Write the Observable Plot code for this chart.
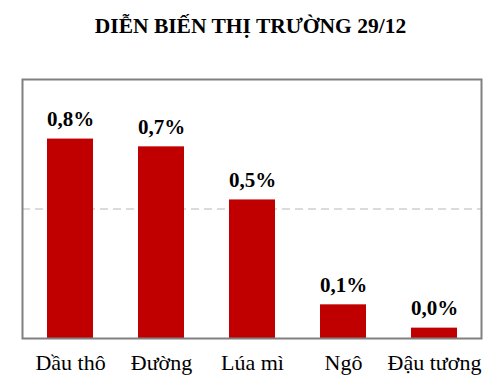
<!DOCTYPE html>
<html><head><meta charset="utf-8">
<script src="https://cdn.jsdelivr.net/npm/d3@7"></script>
<script src="https://cdn.jsdelivr.net/npm/@observablehq/plot@0.6"></script>
<style>
body{margin:0;background:#fff;width:501px;height:392px;overflow:hidden;}
#title{height:50px;box-sizing:border-box;padding-top:16px;text-align:center;font-family:"Liberation Serif","Times New Roman",serif;font-weight:bold;font-size:21.5px;line-height:20px;color:#000;}
#chart svg text{font-family:"Liberation Serif","Times New Roman",serif;}
</style></head>
<body>
<div id="title">DIỄN BIẾN THỊ TRƯỜNG 29/12</div>
<div id="chart"></div>
<script>
const categories = ["Dầu thô", "Đường", "Lúa mì", "Ngô", "Đậu tương"];
const values = [0.77, 0.74, 0.535, 0.13, 0.04];
const gridValues = [0.5];

const data = categories.map((c, i) => ({cat: c, v: values[i]}));
const fmt = v => d3.format(".1f")(v).replace(".", ",") + "%";
const serif = "'Liberation Serif','Times New Roman',serif";

const chart = Plot.plot({
  width: 501,
  height: 342,
  marginTop: 29,
  marginBottom: 54,
  marginLeft: 22,
  marginRight: 20,
  style: {fontFamily: serif, background: "#fff", color: "#000"},
  x: {domain: categories, paddingInner: 0.5, paddingOuter: 0.25, label: null},
  y: {domain: [0, 1], axis: null},
  marks: [
    Plot.ruleY(gridValues, {stroke: "#d0d0d0", strokeWidth: 1.5, strokeDasharray: "8,5"}),
    Plot.barY(data, {x: "cat", y: "v", fill: "#c00000"}),
    Plot.text(data, {x: "cat", y: "v", text: d => fmt(d.v), lineAnchor: "bottom", dy: -13, fontSize: 21, fontWeight: "bold", fontFamily: serif, fill: "#000"}),
    Plot.axisX({tickSize: 0, tickPadding: 16, fontSize: 22, fontFamily: serif, label: null, color: "#000"}),
    Plot.frame({stroke: "#808080", strokeWidth: 2})
  ]
});
document.getElementById("chart").appendChild(chart);
</script>
</body></html>
